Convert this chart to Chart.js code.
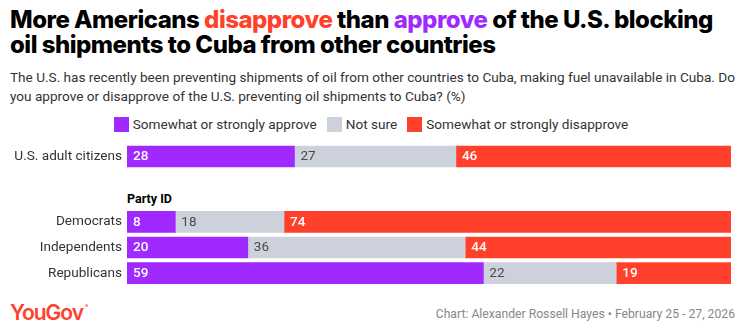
<!DOCTYPE html>
<html lang="en">
<head>
<meta charset="UTF-8">
<title>More Americans disapprove than approve of the U.S. blocking oil shipments to Cuba</title>
<script src="https://cdn.jsdelivr.net/npm/chart.js"></script>
<style>
  body { margin: 0; width: 742px; height: 334px; background: #fff; position: relative; overflow: hidden; font-family: Roboto, "Liberation Sans", sans-serif; }
  #title { position: absolute; left: 10px; top: 7px; width: 722px; font-family: Inter, sans-serif; font-weight: 800; font-size: 24px; line-height: 25px; letter-spacing: -0.5px; color: #000; }
  #title .dis { color: #ff412c; }
  #title .app { color: #9f29ff; }
  #subtitle { position: absolute; left: 10px; top: 68px; width: 730px; font-size: 13.6px; line-height: 19px; color: #333; }
  #legend { position: absolute; left: 0; top: 116px; width: 742px; display: flex; justify-content: center; font-size: 13.6px; color: #333; }
  #legend span.item { display: flex; align-items: center; margin: 0 5px; }
  #legend i { display: inline-block; width: 15px; height: 15px; margin-right: 4px; }
  .box { position: absolute; left: 0; width: 742px; }
  #box1 { top: 144px; height: 25px; }
  #box2 { top: 209px; height: 77px; }
  #party { position: absolute; left: 127px; top: 191px; font-weight: 700; font-size: 12.5px; color: #000; }
  #logo { position: absolute; left: 10px; top: 300px; font-family: Inter, sans-serif; font-weight: 600; font-size: 21px; letter-spacing: -1px; color: #ff412c; }
  #logo sup { font-size: 5px; vertical-align: top; position: relative; top: 3px; margin-left: 2px; }
  #source { position: absolute; right: 7px; top: 307px; font-size: 12.2px; color: #888; }
</style>
</head>
<body>
<div id="title">More Americans <span class="dis">disapprove</span> than <span class="app">approve</span> of the U.S. blocking oil shipments to Cuba from other countries</div>
<div id="subtitle">The U.S. has recently been preventing shipments of oil from other countries to Cuba, making fuel unavailable in Cuba. Do you approve or disapprove of the U.S. preventing oil shipments to Cuba? (%)</div>
<div id="legend"></div>
<div class="box" id="box1"><canvas id="chart1"></canvas></div>
<div id="party">Party ID</div>
<div class="box" id="box2"><canvas id="chart2"></canvas></div>
<div id="logo">YouGov<sup>®</sup></div>
<div id="source">Chart: Alexander Rossell Hayes • February 25 - 27, 2026</div>

<script>
// données
const overallLabels = ['U.S. adult citizens'];
const partyLabels = ['Democrats', 'Independents', 'Republicans'];

const approveOverall = [28];
const notSureOverall = [27];
const disapproveOverall = [46];

const approveParty = [8, 20, 59];
const notSureParty = [18, 36, 22];
const disapproveParty = [74, 44, 19];

const seriesNames = ['Somewhat or strongly approve', 'Not sure', 'Somewhat or strongly disapprove'];
const seriesColors = ['#9f29ff', '#cdd1db', '#ff412c'];
const labelColors = ['#ffffff', '#4a4a4a', '#ffffff'];

// legende html
const legend = document.getElementById('legend');
seriesNames.forEach((name, i) => {
  const item = document.createElement('span');
  item.className = 'item';
  item.innerHTML = '<i style="background:' + seriesColors[i] + '"></i>' + name;
  legend.appendChild(item);
});

// etiquettes dans les barres (valeurs brutes)
const barLabels = {
  id: 'barLabels',
  afterDatasetsDraw(chart) {
    const ctx = chart.ctx;
    ctx.save();
    ctx.textBaseline = 'middle';
    ctx.textAlign = 'left';
    chart.data.datasets.forEach((ds, di) => {
      const meta = chart.getDatasetMeta(di);
      meta.data.forEach((bar, i) => {
        ctx.fillStyle = labelColors[di];
        ctx.font = (di === 1 ? '400' : '500') + ' 13.5px Roboto, sans-serif';
        ctx.fillText(ds.rawValues[i], Math.min(bar.x, bar.base) + 6, bar.y + 0.5);
      });
    });
    ctx.restore();
  }
};

function makeChart(id, labels, a, n, d) {
  const series = [a, n, d];
  const totals = labels.map((_, i) => a[i] + n[i] + d[i]);
  const rowMax = Math.max(...totals);
  return new Chart(document.getElementById(id), {
    type: 'bar',
    data: {
      labels: labels,
      datasets: series.map((arr, i) => ({
        label: seriesNames[i],
        // chaque ligne remplit toute la largeur
        data: arr.map((v, j) => v * rowMax / totals[j]),
        rawValues: arr,
        backgroundColor: seriesColors[i],
        barThickness: 21
      }))
    },
    options: {
      indexAxis: 'y',
      responsive: true,
      maintainAspectRatio: false,
      animation: false,
      layout: { padding: { left: 0, right: 11, top: 0, bottom: 0 } },
      plugins: { legend: { display: false }, tooltip: { enabled: false } },
      scales: {
        x: { stacked: true, min: 0, max: rowMax, display: false },
        y: {
          stacked: true,
          grid: { display: false, drawTicks: false },
          border: { display: false },
          ticks: { padding: 5, color: '#333', font: { family: 'Roboto', size: 13.6 } },
          afterFit(scale) {
            scale.width = 127;
            // pas de marge verticale pour les etiquettes
            scale.paddingTop = 0;
            scale.paddingBottom = 0;
          }
        }
      }
    },
    plugins: [barLabels]
  });
}

makeChart('chart1', overallLabels, approveOverall, notSureOverall, disapproveOverall);
makeChart('chart2', partyLabels, approveParty, notSureParty, disapproveParty);
</script>
</body>
</html>
